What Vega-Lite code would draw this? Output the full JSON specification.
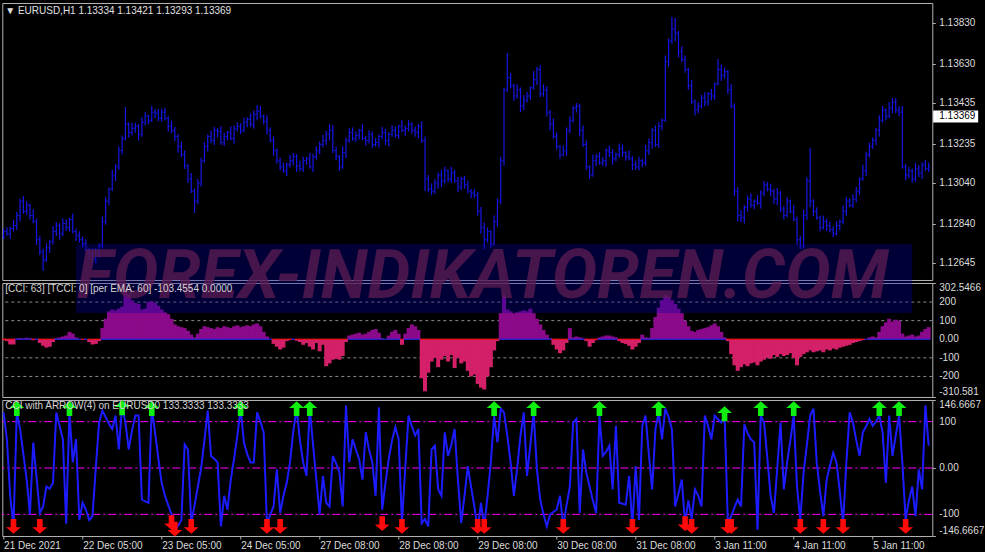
{
  "$schema": "https://vega.github.io/schema/vega-lite/v6.json",
  "background": "#000000",
  "padding": {"left": -1.7, "top": 2, "right": 0, "bottom": 0},
  "autosize": {"type": "pad"},
  "spacing": 3,
  "bounds": "flush",
  "config": {
    "view": {"stroke": "#b4b4b4", "strokeWidth": 1},
    "axis": {"labels": false, "tickColor": "#b4b4b4", "tickSize": 3, "domain": false, "grid": false, "title": null},
    "text": {"font": "Liberation Sans", "fontSize": 10, "color": "#dcdcdc", "align": "left", "dx": 7},
    "title": {"font": "Liberation Sans", "fontSize": 10, "fontWeight": "normal", "color": "#e0e0e0", "anchor": "start", "frame": "group", "dx": 3}
  },
  "datasets": {
    "bars": [
{"i":0,"o":1.12780,"h":1.12815,"l":1.12762,"c":1.12800,"m":-5,"k":120},
{"i":1,"o":1.12800,"h":1.12822,"l":1.12780,"c":1.12790,"m":-10,"k":62},
{"i":2,"o":1.12790,"h":1.12825,"l":1.12765,"c":1.12815,"m":-28,"k":-60},
{"i":3,"o":1.12815,"h":1.12858,"l":1.12801,"c":1.12830,"m":-28,"k":-126},
{"i":4,"o":1.12830,"h":1.12898,"l":1.12808,"c":1.12880,"m":3,"k":120},
{"i":5,"o":1.12880,"h":1.12962,"l":1.12850,"c":1.12950,"m":6,"k":84},
{"i":6,"o":1.12950,"h":1.12975,"l":1.12888,"c":1.12900,"m":4,"k":30},
{"i":7,"o":1.12900,"h":1.12950,"l":1.12884,"c":1.12930,"m":8,"k":-25},
{"i":8,"o":1.12930,"h":1.12938,"l":1.12860,"c":1.12880,"m":5,"k":-100},
{"i":9,"o":1.12880,"h":1.12910,"l":1.12841,"c":1.12850,"m":-5,"k":55},
{"i":10,"o":1.12850,"h":1.12864,"l":1.12734,"c":1.12760,"m":2,"k":-20},
{"i":11,"o":1.12760,"h":1.12780,"l":1.12685,"c":1.12700,"m":-20,"k":-97},
{"i":12,"o":1.12700,"h":1.12715,"l":1.12605,"c":1.12660,"m":-35,"k":-83},
{"i":13,"o":1.12660,"h":1.12742,"l":1.12650,"c":1.12720,"m":-45,"k":-40},
{"i":14,"o":1.12720,"h":1.12760,"l":1.12695,"c":1.12750,"m":-40,"k":-45},
{"i":15,"o":1.12750,"h":1.12828,"l":1.12736,"c":1.12800,"m":-15,"k":-32},
{"i":16,"o":1.12800,"h":1.12848,"l":1.12778,"c":1.12830,"m":5,"k":120},
{"i":17,"o":1.12830,"h":1.12842,"l":1.12760,"c":1.12790,"m":10,"k":91},
{"i":18,"o":1.12790,"h":1.12865,"l":1.12778,"c":1.12840,"m":15,"k":62},
{"i":19,"o":1.12840,"h":1.12860,"l":1.12804,"c":1.12820,"m":20,"k":-120},
{"i":20,"o":1.12820,"h":1.12868,"l":1.12800,"c":1.12860,"m":40,"k":120},
{"i":21,"o":1.12860,"h":1.12890,"l":1.12791,"c":1.12800,"m":30,"k":12},
{"i":22,"o":1.12800,"h":1.12814,"l":1.12754,"c":1.12780,"m":10,"k":62},
{"i":23,"o":1.12780,"h":1.12800,"l":1.12745,"c":1.12760,"m":2,"k":-112},
{"i":24,"o":1.12760,"h":1.12775,"l":1.12722,"c":1.12740,"m":-3,"k":-75},
{"i":25,"o":1.12740,"h":1.12762,"l":1.12700,"c":1.12710,"m":0,"k":-90},
{"i":26,"o":1.12710,"h":1.12720,"l":1.12665,"c":1.12690,"m":-15,"k":-112},
{"i":27,"o":1.12690,"h":1.12718,"l":1.12640,"c":1.12665,"m":-28,"k":-104},
{"i":28,"o":1.12665,"h":1.12718,"l":1.12643,"c":1.12700,"m":-25,"k":0},
{"i":29,"o":1.12700,"h":1.12742,"l":1.12670,"c":1.12730,"m":-10,"k":98},
{"i":30,"o":1.12730,"h":1.12875,"l":1.12718,"c":1.12850,"m":60,"k":124},
{"i":31,"o":1.12850,"h":1.12970,"l":1.12834,"c":1.12950,"m":110,"k":110},
{"i":32,"o":1.12950,"h":1.13018,"l":1.12930,"c":1.13010,"m":150,"k":95},
{"i":33,"o":1.13010,"h":1.13105,"l":1.13001,"c":1.13075,"m":160,"k":84},
{"i":34,"o":1.13075,"h":1.13134,"l":1.13049,"c":1.13120,"m":155,"k":113},
{"i":35,"o":1.13120,"h":1.13220,"l":1.13105,"c":1.13200,"m":165,"k":40},
{"i":36,"o":1.13200,"h":1.13275,"l":1.13182,"c":1.13260,"m":175,"k":135},
{"i":37,"o":1.13260,"h":1.13415,"l":1.13250,"c":1.13330,"m":265,"k":98},
{"i":38,"o":1.13330,"h":1.13340,"l":1.13265,"c":1.13290,"m":240,"k":40},
{"i":39,"o":1.13290,"h":1.13338,"l":1.13276,"c":1.13310,"m":210,"k":80},
{"i":40,"o":1.13310,"h":1.13338,"l":1.13288,"c":1.13320,"m":195,"k":113},
{"i":41,"o":1.13320,"h":1.13332,"l":1.13250,"c":1.13280,"m":190,"k":113},
{"i":42,"o":1.13280,"h":1.13365,"l":1.13268,"c":1.13340,"m":160,"k":-68},
{"i":43,"o":1.13340,"h":1.13390,"l":1.13324,"c":1.13370,"m":165,"k":-72},
{"i":44,"o":1.13370,"h":1.13378,"l":1.13330,"c":1.13350,"m":200,"k":-75},
{"i":45,"o":1.13350,"h":1.13420,"l":1.13341,"c":1.13390,"m":205,"k":131},
{"i":46,"o":1.13390,"h":1.13404,"l":1.13359,"c":1.13385,"m":195,"k":77},
{"i":47,"o":1.13385,"h":1.13405,"l":1.13345,"c":1.13360,"m":180,"k":20},
{"i":48,"o":1.13360,"h":1.13405,"l":1.13342,"c":1.13390,"m":160,"k":-32},
{"i":49,"o":1.13390,"h":1.13410,"l":1.13350,"c":1.13360,"m":145,"k":-60},
{"i":50,"o":1.13360,"h":1.13370,"l":1.13295,"c":1.13320,"m":135,"k":-80},
{"i":51,"o":1.13320,"h":1.13348,"l":1.13286,"c":1.13300,"m":110,"k":-100},
{"i":52,"o":1.13300,"h":1.13318,"l":1.13248,"c":1.13270,"m":80,"k":-133},
{"i":53,"o":1.13270,"h":1.13282,"l":1.13190,"c":1.13220,"m":70,"k":-125},
{"i":54,"o":1.13220,"h":1.13245,"l":1.13168,"c":1.13180,"m":65,"k":-112},
{"i":55,"o":1.13180,"h":1.13200,"l":1.13109,"c":1.13125,"m":60,"k":51},
{"i":56,"o":1.13125,"h":1.13133,"l":1.13040,"c":1.13060,"m":45,"k":40},
{"i":57,"o":1.13060,"h":1.13090,"l":1.12991,"c":1.13000,"m":25,"k":-120},
{"i":58,"o":1.13000,"h":1.13014,"l":1.12892,"c":1.12950,"m":10,"k":-80},
{"i":59,"o":1.12950,"h":1.13060,"l":1.12935,"c":1.13040,"m":30,"k":-40},
{"i":60,"o":1.13040,"h":1.13165,"l":1.13022,"c":1.13150,"m":55,"k":0},
{"i":61,"o":1.13150,"h":1.13242,"l":1.13140,"c":1.13220,"m":70,"k":60},
{"i":62,"o":1.13220,"h":1.13280,"l":1.13195,"c":1.13270,"m":65,"k":124},
{"i":63,"o":1.13270,"h":1.13298,"l":1.13236,"c":1.13250,"m":60,"k":26},
{"i":64,"o":1.13250,"h":1.13318,"l":1.13228,"c":1.13300,"m":55,"k":20},
{"i":65,"o":1.13300,"h":1.13312,"l":1.13265,"c":1.13295,"m":65,"k":12},
{"i":66,"o":1.13295,"h":1.13320,"l":1.13228,"c":1.13240,"m":60,"k":-126},
{"i":67,"o":1.13240,"h":1.13290,"l":1.13224,"c":1.13270,"m":70,"k":-60},
{"i":68,"o":1.13270,"h":1.13298,"l":1.13250,"c":1.13290,"m":65,"k":-90},
{"i":69,"o":1.13290,"h":1.13320,"l":1.13251,"c":1.13260,"m":60,"k":-25},
{"i":70,"o":1.13260,"h":1.13324,"l":1.13234,"c":1.13310,"m":70,"k":19},
{"i":71,"o":1.13310,"h":1.13340,"l":1.13295,"c":1.13320,"m":75,"k":70},
{"i":72,"o":1.13320,"h":1.13335,"l":1.13282,"c":1.13300,"m":65,"k":128},
{"i":73,"o":1.13300,"h":1.13362,"l":1.13290,"c":1.13340,"m":70,"k":55},
{"i":74,"o":1.13340,"h":1.13365,"l":1.13315,"c":1.13355,"m":75,"k":30},
{"i":75,"o":1.13355,"h":1.13383,"l":1.13316,"c":1.13330,"m":70,"k":12},
{"i":76,"o":1.13330,"h":1.13398,"l":1.13308,"c":1.13380,"m":80,"k":12},
{"i":77,"o":1.13380,"h":1.13425,"l":1.13350,"c":1.13395,"m":85,"k":120},
{"i":78,"o":1.13395,"h":1.13420,"l":1.13358,"c":1.13370,"m":70,"k":100},
{"i":79,"o":1.13370,"h":1.13378,"l":1.13329,"c":1.13345,"m":40,"k":77},
{"i":80,"o":1.13345,"h":1.13375,"l":1.13280,"c":1.13300,"m":15,"k":-122},
{"i":81,"o":1.13300,"h":1.13314,"l":1.13241,"c":1.13250,"m":0,"k":-100},
{"i":82,"o":1.13250,"h":1.13270,"l":1.13174,"c":1.13200,"m":-25,"k":-83},
{"i":83,"o":1.13200,"h":1.13210,"l":1.13135,"c":1.13150,"m":-40,"k":-3},
{"i":84,"o":1.13150,"h":1.13165,"l":1.13102,"c":1.13120,"m":-55,"k":-97},
{"i":85,"o":1.13120,"h":1.13142,"l":1.13090,"c":1.13100,"m":-45,"k":-60},
{"i":86,"o":1.13100,"h":1.13140,"l":1.13075,"c":1.13130,"m":-10,"k":-32},
{"i":87,"o":1.13130,"h":1.13178,"l":1.13116,"c":1.13150,"m":-5,"k":12},
{"i":88,"o":1.13150,"h":1.13188,"l":1.13128,"c":1.13170,"m":0,"k":80},
{"i":89,"o":1.13170,"h":1.13182,"l":1.13095,"c":1.13125,"m":-8,"k":128},
{"i":90,"o":1.13125,"h":1.13150,"l":1.13098,"c":1.13110,"m":-15,"k":60},
{"i":91,"o":1.13110,"h":1.13170,"l":1.13094,"c":1.13150,"m":-30,"k":12},
{"i":92,"o":1.13150,"h":1.13168,"l":1.13130,"c":1.13160,"m":-20,"k":-17},
{"i":93,"o":1.13160,"h":1.13190,"l":1.13111,"c":1.13120,"m":-40,"k":128},
{"i":94,"o":1.13120,"h":1.13184,"l":1.13094,"c":1.13170,"m":-55,"k":50},
{"i":95,"o":1.13170,"h":1.13220,"l":1.13155,"c":1.13200,"m":-20,"k":-25},
{"i":96,"o":1.13200,"h":1.13245,"l":1.13182,"c":1.13230,"m":-65,"k":-100},
{"i":97,"o":1.13230,"h":1.13278,"l":1.13216,"c":1.13250,"m":-30,"k":-17},
{"i":98,"o":1.13250,"h":1.13298,"l":1.13228,"c":1.13280,"m":-145,"k":-75},
{"i":99,"o":1.13280,"h":1.13330,"l":1.13250,"c":1.13300,"m":-130,"k":-83},
{"i":100,"o":1.13300,"h":1.13325,"l":1.13188,"c":1.13200,"m":-110,"k":26},
{"i":101,"o":1.13200,"h":1.13220,"l":1.13154,"c":1.13170,"m":-105,"k":10},
{"i":102,"o":1.13170,"h":1.13178,"l":1.13100,"c":1.13120,"m":-110,"k":-10},
{"i":103,"o":1.13120,"h":1.13220,"l":1.13111,"c":1.13190,"m":-90,"k":-83},
{"i":104,"o":1.13190,"h":1.13264,"l":1.13164,"c":1.13250,"m":-15,"k":135},
{"i":105,"o":1.13250,"h":1.13310,"l":1.13240,"c":1.13290,"m":20,"k":12},
{"i":106,"o":1.13290,"h":1.13315,"l":1.13248,"c":1.13260,"m":25,"k":62},
{"i":107,"o":1.13260,"h":1.13295,"l":1.13244,"c":1.13275,"m":30,"k":40},
{"i":108,"o":1.13275,"h":1.13308,"l":1.13255,"c":1.13300,"m":35,"k":19},
{"i":109,"o":1.13300,"h":1.13330,"l":1.13251,"c":1.13260,"m":25,"k":-25},
{"i":110,"o":1.13260,"h":1.13274,"l":1.13224,"c":1.13250,"m":30,"k":77},
{"i":111,"o":1.13250,"h":1.13300,"l":1.13235,"c":1.13280,"m":40,"k":40},
{"i":112,"o":1.13280,"h":1.13295,"l":1.13212,"c":1.13230,"m":50,"k":12},
{"i":113,"o":1.13230,"h":1.13262,"l":1.13220,"c":1.13240,"m":55,"k":-60},
{"i":114,"o":1.13240,"h":1.13280,"l":1.13215,"c":1.13270,"m":35,"k":131},
{"i":115,"o":1.13270,"h":1.13318,"l":1.13256,"c":1.13290,"m":5,"k":-90},
{"i":116,"o":1.13290,"h":1.13308,"l":1.13228,"c":1.13250,"m":0,"k":-32},
{"i":117,"o":1.13250,"h":1.13292,"l":1.13220,"c":1.13280,"m":20,"k":20},
{"i":118,"o":1.13280,"h":1.13325,"l":1.13268,"c":1.13300,"m":40,"k":60},
{"i":119,"o":1.13300,"h":1.13320,"l":1.13263,"c":1.13275,"m":50,"k":88},
{"i":120,"o":1.13275,"h":1.13328,"l":1.13259,"c":1.13320,"m":30,"k":62},
{"i":121,"o":1.13320,"h":1.13350,"l":1.13291,"c":1.13300,"m":-30,"k":-119},
{"i":122,"o":1.13300,"h":1.13324,"l":1.13274,"c":1.13310,"m":30,"k":0},
{"i":123,"o":1.13310,"h":1.13350,"l":1.13295,"c":1.13330,"m":60,"k":113},
{"i":124,"o":1.13330,"h":1.13340,"l":1.13282,"c":1.13300,"m":80,"k":90},
{"i":125,"o":1.13300,"h":1.13318,"l":1.13268,"c":1.13290,"m":70,"k":70},
{"i":126,"o":1.13290,"h":1.13332,"l":1.13260,"c":1.13320,"m":50,"k":84},
{"i":127,"o":1.13320,"h":1.13345,"l":1.13238,"c":1.13250,"m":-210,"k":-119},
{"i":128,"o":1.13250,"h":1.13270,"l":1.13000,"c":1.13060,"m":-280,"k":-110},
{"i":129,"o":1.13060,"h":1.13080,"l":1.12995,"c":1.13010,"m":-180,"k":-126},
{"i":130,"o":1.13010,"h":1.13038,"l":1.12980,"c":1.13000,"m":-120,"k":40},
{"i":131,"o":1.13000,"h":1.13058,"l":1.12986,"c":1.13040,"m":-100,"k":48},
{"i":132,"o":1.13040,"h":1.13092,"l":1.13010,"c":1.13080,"m":-150,"k":-46},
{"i":133,"o":1.13080,"h":1.13105,"l":1.13020,"c":1.13050,"m":-110,"k":-60},
{"i":134,"o":1.13050,"h":1.13120,"l":1.13038,"c":1.13100,"m":-90,"k":77},
{"i":135,"o":1.13100,"h":1.13108,"l":1.13044,"c":1.13060,"m":-120,"k":26},
{"i":136,"o":1.13060,"h":1.13120,"l":1.13040,"c":1.13090,"m":-85,"k":50},
{"i":137,"o":1.13090,"h":1.13104,"l":1.13041,"c":1.13050,"m":-155,"k":84},
{"i":138,"o":1.13050,"h":1.13070,"l":1.12994,"c":1.13020,"m":-100,"k":-25},
{"i":139,"o":1.13020,"h":1.13070,"l":1.13005,"c":1.13060,"m":-130,"k":-119},
{"i":140,"o":1.13060,"h":1.13075,"l":1.13012,"c":1.13030,"m":-120,"k":-60},
{"i":141,"o":1.13030,"h":1.13052,"l":1.12990,"c":1.13000,"m":-170,"k":4},
{"i":142,"o":1.13000,"h":1.13010,"l":1.12965,"c":1.12990,"m":-200,"k":-40},
{"i":143,"o":1.12990,"h":1.13008,"l":1.12966,"c":1.12980,"m":-190,"k":-83},
{"i":144,"o":1.12980,"h":1.12995,"l":1.12878,"c":1.12900,"m":-240,"k":-133},
{"i":145,"o":1.12900,"h":1.12922,"l":1.12790,"c":1.12820,"m":-260,"k":-75},
{"i":146,"o":1.12820,"h":1.12845,"l":1.12714,"c":1.12760,"m":-270,"k":-126},
{"i":147,"o":1.12760,"h":1.12820,"l":1.12744,"c":1.12800,"m":-200,"k":-60},
{"i":148,"o":1.12800,"h":1.12808,"l":1.12720,"c":1.12740,"m":-150,"k":12},
{"i":149,"o":1.12740,"h":1.12880,"l":1.12731,"c":1.12850,"m":-60,"k":113},
{"i":150,"o":1.12850,"h":1.12964,"l":1.12824,"c":1.12950,"m":-10,"k":55},
{"i":151,"o":1.12950,"h":1.13170,"l":1.12935,"c":1.13150,"m":140,"k":128},
{"i":152,"o":1.13150,"h":1.13510,"l":1.13125,"c":1.13500,"m":240,"k":120},
{"i":153,"o":1.13500,"h":1.13682,"l":1.13488,"c":1.13560,"m":160,"k":70},
{"i":154,"o":1.13560,"h":1.13582,"l":1.13508,"c":1.13520,"m":150,"k":12},
{"i":155,"o":1.13520,"h":1.13530,"l":1.13445,"c":1.13470,"m":140,"k":-60},
{"i":156,"o":1.13470,"h":1.13528,"l":1.13456,"c":1.13500,"m":145,"k":0},
{"i":157,"o":1.13500,"h":1.13512,"l":1.13390,"c":1.13420,"m":150,"k":70},
{"i":158,"o":1.13420,"h":1.13475,"l":1.13400,"c":1.13450,"m":155,"k":120},
{"i":159,"o":1.13450,"h":1.13490,"l":1.13438,"c":1.13470,"m":150,"k":-17},
{"i":160,"o":1.13470,"h":1.13518,"l":1.13450,"c":1.13510,"m":165,"k":50},
{"i":161,"o":1.13510,"h":1.13593,"l":1.13501,"c":1.13550,"m":140,"k":120},
{"i":162,"o":1.13550,"h":1.13614,"l":1.13524,"c":1.13600,"m":110,"k":-3},
{"i":163,"o":1.13600,"h":1.13620,"l":1.13465,"c":1.13480,"m":80,"k":-68},
{"i":164,"o":1.13480,"h":1.13528,"l":1.13466,"c":1.13500,"m":50,"k":-100},
{"i":165,"o":1.13500,"h":1.13518,"l":1.13368,"c":1.13390,"m":25,"k":-126},
{"i":166,"o":1.13390,"h":1.13400,"l":1.13300,"c":1.13330,"m":5,"k":-100},
{"i":167,"o":1.13330,"h":1.13360,"l":1.13258,"c":1.13270,"m":-30,"k":-95},
{"i":168,"o":1.13270,"h":1.13290,"l":1.13204,"c":1.13220,"m":-55,"k":-90},
{"i":169,"o":1.13220,"h":1.13228,"l":1.13160,"c":1.13180,"m":-75,"k":-60},
{"i":170,"o":1.13180,"h":1.13225,"l":1.13171,"c":1.13200,"m":-60,"k":-126},
{"i":171,"o":1.13200,"h":1.13314,"l":1.13174,"c":1.13300,"m":-20,"k":-80},
{"i":172,"o":1.13300,"h":1.13370,"l":1.13285,"c":1.13350,"m":60,"k":-40},
{"i":173,"o":1.13350,"h":1.13420,"l":1.13338,"c":1.13410,"m":10,"k":98},
{"i":174,"o":1.13410,"h":1.13435,"l":1.13388,"c":1.13420,"m":15,"k":106},
{"i":175,"o":1.13420,"h":1.13432,"l":1.13270,"c":1.13300,"m":10,"k":-97},
{"i":176,"o":1.13300,"h":1.13325,"l":1.13218,"c":1.13230,"m":5,"k":40},
{"i":177,"o":1.13230,"h":1.13250,"l":1.13104,"c":1.13120,"m":-10,"k":-10},
{"i":178,"o":1.13120,"h":1.13128,"l":1.13060,"c":1.13080,"m":-40,"k":-40},
{"i":179,"o":1.13080,"h":1.13180,"l":1.13071,"c":1.13150,"m":-20,"k":-70},
{"i":180,"o":1.13150,"h":1.13184,"l":1.13124,"c":1.13170,"m":-5,"k":-97},
{"i":181,"o":1.13170,"h":1.13192,"l":1.13130,"c":1.13140,"m":10,"k":113},
{"i":182,"o":1.13140,"h":1.13168,"l":1.13125,"c":1.13150,"m":15,"k":26},
{"i":183,"o":1.13150,"h":1.13212,"l":1.13120,"c":1.13200,"m":20,"k":35},
{"i":184,"o":1.13200,"h":1.13225,"l":1.13168,"c":1.13190,"m":20,"k":48},
{"i":185,"o":1.13190,"h":1.13208,"l":1.13130,"c":1.13160,"m":15,"k":-46},
{"i":186,"o":1.13160,"h":1.13192,"l":1.13148,"c":1.13180,"m":10,"k":91},
{"i":187,"o":1.13180,"h":1.13235,"l":1.13164,"c":1.13210,"m":-10,"k":-75},
{"i":188,"o":1.13210,"h":1.13230,"l":1.13170,"c":1.13190,"m":-20,"k":-77},
{"i":189,"o":1.13190,"h":1.13198,"l":1.13150,"c":1.13170,"m":-25,"k":-79},
{"i":190,"o":1.13170,"h":1.13200,"l":1.13151,"c":1.13160,"m":-35,"k":-17},
{"i":191,"o":1.13160,"h":1.13174,"l":1.13104,"c":1.13130,"m":-55,"k":-126},
{"i":192,"o":1.13130,"h":1.13150,"l":1.13105,"c":1.13120,"m":-40,"k":4},
{"i":193,"o":1.13120,"h":1.13170,"l":1.13102,"c":1.13150,"m":-20,"k":-112},
{"i":194,"o":1.13150,"h":1.13160,"l":1.13118,"c":1.13140,"m":25,"k":91},
{"i":195,"o":1.13140,"h":1.13228,"l":1.13126,"c":1.13200,"m":10,"k":113},
{"i":196,"o":1.13200,"h":1.13258,"l":1.13178,"c":1.13240,"m":8,"k":30},
{"i":197,"o":1.13240,"h":1.13312,"l":1.13210,"c":1.13300,"m":60,"k":-46},
{"i":198,"o":1.13300,"h":1.13325,"l":1.13218,"c":1.13230,"m":120,"k":84},
{"i":199,"o":1.13230,"h":1.13340,"l":1.13214,"c":1.13320,"m":170,"k":120},
{"i":200,"o":1.13320,"h":1.13358,"l":1.13300,"c":1.13350,"m":210,"k":62},
{"i":201,"o":1.13350,"h":1.13670,"l":1.13341,"c":1.13640,"m":240,"k":128},
{"i":202,"o":1.13640,"h":1.13754,"l":1.13614,"c":1.13740,"m":230,"k":110},
{"i":203,"o":1.13740,"h":1.13860,"l":1.13728,"c":1.13800,"m":210,"k":84},
{"i":204,"o":1.13800,"h":1.13855,"l":1.13740,"c":1.13780,"m":190,"k":-83},
{"i":205,"o":1.13780,"h":1.13792,"l":1.13660,"c":1.13690,"m":165,"k":-55},
{"i":206,"o":1.13690,"h":1.13715,"l":1.13638,"c":1.13650,"m":140,"k":-25},
{"i":207,"o":1.13650,"h":1.13670,"l":1.13584,"c":1.13600,"m":100,"k":-119},
{"i":208,"o":1.13600,"h":1.13608,"l":1.13500,"c":1.13520,"m":70,"k":-70},
{"i":209,"o":1.13520,"h":1.13550,"l":1.13431,"c":1.13440,"m":45,"k":-110},
{"i":210,"o":1.13440,"h":1.13454,"l":1.13374,"c":1.13400,"m":40,"k":-46},
{"i":211,"o":1.13400,"h":1.13440,"l":1.13385,"c":1.13420,"m":50,"k":-60},
{"i":212,"o":1.13420,"h":1.13475,"l":1.13408,"c":1.13460,"m":55,"k":-83},
{"i":213,"o":1.13460,"h":1.13488,"l":1.13418,"c":1.13440,"m":60,"k":113},
{"i":214,"o":1.13440,"h":1.13490,"l":1.13422,"c":1.13480,"m":65,"k":90},
{"i":215,"o":1.13480,"h":1.13505,"l":1.13448,"c":1.13470,"m":75,"k":62},
{"i":216,"o":1.13470,"h":1.13538,"l":1.13450,"c":1.13530,"m":85,"k":113},
{"i":217,"o":1.13530,"h":1.13652,"l":1.13521,"c":1.13600,"m":70,"k":105},
{"i":218,"o":1.13600,"h":1.13625,"l":1.13544,"c":1.13570,"m":40,"k":98},
{"i":219,"o":1.13570,"h":1.13610,"l":1.13555,"c":1.13590,"m":10,"k":113},
{"i":220,"o":1.13590,"h":1.13598,"l":1.13480,"c":1.13500,"m":-10,"k":-119},
{"i":221,"o":1.13500,"h":1.13530,"l":1.13408,"c":1.13420,"m":-80,"k":-104},
{"i":222,"o":1.13420,"h":1.13434,"l":1.12975,"c":1.13000,"m":-140,"k":-85},
{"i":223,"o":1.13000,"h":1.13020,"l":1.12850,"c":1.12880,"m":-170,"k":-68},
{"i":224,"o":1.12880,"h":1.12905,"l":1.12848,"c":1.12870,"m":-150,"k":-83},
{"i":225,"o":1.12870,"h":1.12932,"l":1.12840,"c":1.12920,"m":-135,"k":94},
{"i":226,"o":1.12920,"h":1.12978,"l":1.12898,"c":1.12960,"m":-145,"k":75},
{"i":227,"o":1.12960,"h":1.12990,"l":1.12918,"c":1.12930,"m":-130,"k":62},
{"i":228,"o":1.12930,"h":1.12958,"l":1.12910,"c":1.12950,"m":-125,"k":55},
{"i":229,"o":1.12950,"h":1.12980,"l":1.12931,"c":1.12940,"m":-140,"k":-133},
{"i":230,"o":1.12940,"h":1.13004,"l":1.12914,"c":1.12990,"m":-120,"k":113},
{"i":231,"o":1.12990,"h":1.13050,"l":1.12975,"c":1.13030,"m":-110,"k":98},
{"i":232,"o":1.13030,"h":1.13045,"l":1.12998,"c":1.13010,"m":-100,"k":20},
{"i":233,"o":1.13010,"h":1.13038,"l":1.12975,"c":1.13000,"m":-105,"k":-60},
{"i":234,"o":1.13000,"h":1.13010,"l":1.12938,"c":1.12960,"m":-85,"k":-97},
{"i":235,"o":1.12960,"h":1.13015,"l":1.12930,"c":1.12990,"m":-95,"k":0},
{"i":236,"o":1.12990,"h":1.13000,"l":1.12895,"c":1.12910,"m":-80,"k":98},
{"i":237,"o":1.12910,"h":1.12925,"l":1.12860,"c":1.12880,"m":-90,"k":-46},
{"i":238,"o":1.12880,"h":1.12970,"l":1.12870,"c":1.12950,"m":-85,"k":12},
{"i":239,"o":1.12950,"h":1.12958,"l":1.12890,"c":1.12900,"m":-75,"k":60},
{"i":240,"o":1.12900,"h":1.12930,"l":1.12851,"c":1.12860,"m":-100,"k":113},
{"i":241,"o":1.12860,"h":1.12874,"l":1.12734,"c":1.12760,"m":-140,"k":-40},
{"i":242,"o":1.12760,"h":1.12780,"l":1.12714,"c":1.12730,"m":-95,"k":-112},
{"i":243,"o":1.12730,"h":1.12908,"l":1.12716,"c":1.12880,"m":-80,"k":-10},
{"i":244,"o":1.12880,"h":1.13068,"l":1.12858,"c":1.13050,"m":-70,"k":50},
{"i":245,"o":1.13050,"h":1.13213,"l":1.12920,"c":1.12950,"m":-60,"k":113},
{"i":246,"o":1.12950,"h":1.12960,"l":1.12875,"c":1.12900,"m":-70,"k":128},
{"i":247,"o":1.12900,"h":1.12920,"l":1.12858,"c":1.12870,"m":-65,"k":12},
{"i":248,"o":1.12870,"h":1.12878,"l":1.12800,"c":1.12820,"m":-60,"k":-50},
{"i":249,"o":1.12820,"h":1.12880,"l":1.12811,"c":1.12850,"m":-70,"k":-104},
{"i":250,"o":1.12850,"h":1.12864,"l":1.12804,"c":1.12830,"m":-55,"k":-25},
{"i":251,"o":1.12830,"h":1.12850,"l":1.12795,"c":1.12810,"m":-60,"k":5},
{"i":252,"o":1.12810,"h":1.12825,"l":1.12772,"c":1.12790,"m":-50,"k":33},
{"i":253,"o":1.12790,"h":1.12852,"l":1.12780,"c":1.12830,"m":-55,"k":12},
{"i":254,"o":1.12830,"h":1.12860,"l":1.12805,"c":1.12850,"m":-45,"k":-50},
{"i":255,"o":1.12850,"h":1.12928,"l":1.12836,"c":1.12900,"m":-40,"k":-119},
{"i":256,"o":1.12900,"h":1.12968,"l":1.12878,"c":1.12950,"m":-35,"k":12},
{"i":257,"o":1.12950,"h":1.12962,"l":1.12920,"c":1.12930,"m":-30,"k":120},
{"i":258,"o":1.12930,"h":1.12985,"l":1.12918,"c":1.12960,"m":-20,"k":98},
{"i":259,"o":1.12960,"h":1.13020,"l":1.12944,"c":1.13000,"m":-15,"k":60},
{"i":260,"o":1.13000,"h":1.13068,"l":1.12980,"c":1.13060,"m":-10,"k":26},
{"i":261,"o":1.13060,"h":1.13130,"l":1.13051,"c":1.13100,"m":-5,"k":77},
{"i":262,"o":1.13100,"h":1.13194,"l":1.13074,"c":1.13180,"m":0,"k":90},
{"i":263,"o":1.13180,"h":1.13240,"l":1.13165,"c":1.13220,"m":10,"k":106},
{"i":264,"o":1.13220,"h":1.13265,"l":1.13208,"c":1.13250,"m":15,"k":91},
{"i":265,"o":1.13250,"h":1.13312,"l":1.13228,"c":1.13300,"m":10,"k":100},
{"i":266,"o":1.13300,"h":1.13375,"l":1.13270,"c":1.13350,"m":40,"k":113},
{"i":267,"o":1.13350,"h":1.13420,"l":1.13338,"c":1.13400,"m":70,"k":77},
{"i":268,"o":1.13400,"h":1.13408,"l":1.13350,"c":1.13370,"m":90,"k":-32},
{"i":269,"o":1.13370,"h":1.13440,"l":1.13361,"c":1.13410,"m":110,"k":113},
{"i":270,"o":1.13410,"h":1.13460,"l":1.13384,"c":1.13440,"m":95,"k":26},
{"i":271,"o":1.13440,"h":1.13460,"l":1.13384,"c":1.13400,"m":105,"k":70},
{"i":272,"o":1.13400,"h":1.13420,"l":1.13370,"c":1.13390,"m":100,"k":113},
{"i":273,"o":1.13390,"h":1.13420,"l":1.13111,"c":1.13120,"m":30,"k":12},
{"i":274,"o":1.13120,"h":1.13134,"l":1.13054,"c":1.13080,"m":15,"k":-112},
{"i":275,"o":1.13080,"h":1.13120,"l":1.13065,"c":1.13100,"m":20,"k":-70},
{"i":276,"o":1.13100,"h":1.13110,"l":1.13040,"c":1.13060,"m":25,"k":-40},
{"i":277,"o":1.13060,"h":1.13138,"l":1.13046,"c":1.13110,"m":15,"k":-104},
{"i":278,"o":1.13110,"h":1.13128,"l":1.13068,"c":1.13090,"m":20,"k":-3},
{"i":279,"o":1.13090,"h":1.13142,"l":1.13060,"c":1.13130,"m":40,"k":-46},
{"i":280,"o":1.13130,"h":1.13155,"l":1.13098,"c":1.13110,"m":55,"k":135},
{"i":281,"o":1.13110,"h":1.13140,"l":1.13094,"c":1.13120,"m":65,"k":48}
    ],
    "arrows": [
{"i":4,"dir":"up","v":128},{"i":20,"dir":"up","v":128},{"i":36,"dir":"up","v":130},{"i":45,"dir":"up","v":128},
{"i":72,"dir":"up","v":128},{"i":89,"dir":"up","v":128},{"i":93,"dir":"up","v":128},{"i":149,"dir":"up","v":128},
{"i":161,"dir":"up","v":128},{"i":181,"dir":"up","v":128},{"i":199,"dir":"up","v":128},{"i":219,"dir":"up","v":117},
{"i":230,"dir":"up","v":128},{"i":240,"dir":"up","v":128},{"i":266,"dir":"up","v":128},{"i":272,"dir":"up","v":128},
{"i":3,"dir":"down","v":-126},{"i":11,"dir":"down","v":-126},{"i":51,"dir":"down","v":-118},{"i":52,"dir":"down","v":-132},
{"i":57,"dir":"down","v":-126},{"i":80,"dir":"down","v":-126},{"i":84,"dir":"down","v":-126},{"i":115,"dir":"down","v":-120},
{"i":121,"dir":"down","v":-126},{"i":144,"dir":"down","v":-126},{"i":146,"dir":"down","v":-126},{"i":170,"dir":"down","v":-126},
{"i":191,"dir":"down","v":-126},{"i":207,"dir":"down","v":-120},{"i":209,"dir":"down","v":-126},{"i":220,"dir":"down","v":-126},
{"i":221,"dir":"down","v":-126},{"i":242,"dir":"down","v":-126},{"i":249,"dir":"down","v":-126},{"i":255,"dir":"down","v":-126},
{"i":274,"dir":"down","v":-126}
    ]
  },
  "vconcat": [
    {
      "width": 930,
      "height": 277,
      "title": {"text": "▼ EURUSD,H1  1.13334 1.13421 1.13293 1.13369", "offset": -13},
      "data": {"name": "bars"},
      "layer": [
        {
          "mark": {"type": "rule", "color": "#1616e8", "strokeWidth": 1.2},
          "encoding": {
            "x": {"field": "i", "type": "quantitative", "scale": {"domain": [-0.4, 282.1], "nice": false, "zero": false}, "axis": null},
            "y": {"field": "l", "type": "quantitative", "scale": {"domain": [1.12561, 1.13929], "nice": false, "zero": false},
              "axis": {"orient": "right", "values": [1.1383, 1.1363, 1.13435, 1.13235, 1.1304, 1.1284, 1.12645]}},
            "y2": {"field": "h"}
          }
        },
        {
          "mark": {"type": "tick", "orient": "horizontal", "color": "#1616e8", "size": 1.6, "thickness": 1, "xOffset": -1.1},
          "encoding": {"x": {"field": "i", "type": "quantitative"}, "y": {"field": "o", "type": "quantitative"}}
        },
        {
          "mark": {"type": "tick", "orient": "horizontal", "color": "#1616e8", "size": 1.6, "thickness": 1, "xOffset": 1.1},
          "encoding": {"x": {"field": "i", "type": "quantitative"}, "y": {"field": "c", "type": "quantitative"}}
        },
        {
          "data": {"values": [{}]},
          "mark": {"type": "tick", "orient": "horizontal", "color": "#ffffff", "size": 45, "thickness": 12, "opacity": 1},
          "encoding": {"x": {"datum": 289.2}, "y": {"datum": 1.13369}}
        },
        {
          "data": {"values": [{"v": 1.1383, "t": "1.13830"}, {"v": 1.1363, "t": "1.13630"}, {"v": 1.13435, "t": "1.13435"}, {"v": 1.13235, "t": "1.13235"}, {"v": 1.1304, "t": "1.13040"}, {"v": 1.1284, "t": "1.12840"}, {"v": 1.12645, "t": "1.12645"}, {"v": 1.13369, "t": "1.13369"}]},
          "mark": {"type": "text", "baseline": "middle"},
          "encoding": {
            "x": {"datum": 282.1},
            "y": {"field": "v", "type": "quantitative"},
            "text": {"field": "t", "type": "nominal"},
            "color": {"condition": {"test": "datum.t === '1.13369'", "value": "#000000"}, "value": "#dcdcdc"}
          }
        }
      ]
    },
    {
      "width": 930,
      "height": 114,
      "title": {"text": "[CCI: 63] [TCCI: 0] [per EMA: 60]  -103.4554 0.0000", "offset": -50, "color": "#d4d4d4"},
      "layer": [
        {
          "data": {"values": [{"v": 200}, {"v": 100}, {"v": -100}, {"v": -200}]},
          "mark": {"type": "rule", "color": "#8c8c8c", "strokeDash": [3, 3], "strokeWidth": 1},
          "encoding": {"y": {"field": "v", "type": "quantitative"}}
        },
        {
          "data": {"name": "bars"},
          "mark": {"type": "rule", "strokeWidth": 4},
          "encoding": {
            "x": {"field": "i", "type": "quantitative", "scale": {"domain": [-0.4, 282.1], "nice": false, "zero": false}, "axis": null},
            "y": {"field": "m", "type": "quantitative", "scale": {"domain": [-310.581, 302.5466], "nice": false, "zero": false},
              "axis": {"orient": "right", "values": [302.5466, 200, 100, 0, -100, -200, -310.581]}},
            "y2": {"datum": 0},
            "color": {"condition": {"test": "datum.m >= 0", "value": "#8a0a8a"}, "value": "#d42068"}
          }
        },
        {
          "data": {"name": "bars"},
          "mark": {"type": "tick", "orient": "horizontal", "size": 3.5, "thickness": 1.5},
          "encoding": {
            "x": {"field": "i", "type": "quantitative"},
            "y": {"datum": 0},
            "color": {"condition": {"test": "datum.m >= 0", "value": "#2a2aff"}, "value": "#ff1010"}
          }
        },
        {
          "data": {"values": [{}]},
          "mark": {"type": "rect", "color": "#0000a8", "opacity": 0.32},
          "encoding": {"x": {"datum": 22}, "x2": {"datum": 276}, "y": {"datum": 141}, "y2": {"datum": 512}}
        },
        {
          "data": {"values": [{}]},
          "mark": {"type": "text", "text": "FOREX-INDIKATOREN.COM", "font": "Roboto", "fontSize": 68, "fontStyle": "italic", "fontWeight": "bold", "color": "#5c1c52", "opacity": 0.75, "align": "center", "baseline": "middle", "dx": 0},
          "encoding": {"x": {"datum": 145.5}, "y": {"datum": 330}}
        },
        {
          "data": {"values": [{"v": 200, "t": "200"}, {"v": 100, "t": "100"}, {"v": 0, "t": "0.00"}, {"v": -100, "t": "-100"}, {"v": -200, "t": "-200"}]},
          "mark": {"type": "text", "baseline": "middle"},
          "encoding": {"x": {"datum": 282.1}, "y": {"field": "v", "type": "quantitative"}, "text": {"field": "t", "type": "nominal"}}
        },
        {
          "data": {"values": [{"v": 302.5466, "t": "302.5466"}]},
          "mark": {"type": "text", "baseline": "top", "dy": 0},
          "encoding": {"x": {"datum": 282.1}, "y": {"field": "v", "type": "quantitative"}, "text": {"field": "t", "type": "nominal"}}
        },
        {
          "data": {"values": [{"v": -310.581, "t": "-310.581"}]},
          "mark": {"type": "text", "baseline": "bottom"},
          "encoding": {"x": {"datum": 282.1}, "y": {"field": "v", "type": "quantitative"}, "text": {"field": "t", "type": "nominal"}}
        }
      ]
    },
    {
      "width": 930,
      "height": 136,
      "title": {"text": "CCI with ARROW(4) on EURUSD0 133.3333 133.3333", "offset": -12, "color": "#d4d4d4"},
      "layer": [
        {
          "data": {"values": [{"v": 100}, {"v": 0}, {"v": -100}]},
          "mark": {"type": "rule", "color": "#ff00ff", "strokeDash": [8, 3, 2, 3], "strokeWidth": 1},
          "encoding": {"y": {"field": "v", "type": "quantitative"}}
        },
        {
          "data": {"name": "bars"},
          "mark": {"type": "line", "color": "#1c1cff", "strokeWidth": 2},
          "encoding": {
            "x": {"field": "i", "type": "quantitative", "scale": {"domain": [-0.4, 282.1], "nice": false, "zero": false},
              "axis": {"orient": "bottom", "labels": true, "labelFont": "Liberation Sans", "labelFontSize": 10, "labelColor": "#dcdcdc", "labelOverlap": false, "values": [0, 24, 48, 72, 96, 120, 144, 168, 192, 216, 240, 264],
                "labelExpr": "['21 Dec 2021','22 Dec 05:00','23 Dec 05:00','24 Dec 05:00','27 Dec 08:00','28 Dec 08:00','29 Dec 08:00','30 Dec 08:00','31 Dec 08:00','3 Jan 11:00','4 Jan 11:00','5 Jan 11:00'][round(datum.value / 24)]",
                "labelAlign": "left", "labelPadding": 2, "labelOffset": 0, "labelFlush": false}},
            "y": {"field": "k", "type": "quantitative", "scale": {"domain": [-146.6667, 146.6667], "nice": false, "zero": false},
              "axis": {"orient": "right", "values": [146.6667, 100, 0, -100, -146.6667]}}
          }
        },
        {
          "data": {"name": "arrows"},
          "transform": [{"filter": "datum.dir === 'up'"}],
          "mark": {"type": "point", "shape": "M0,-1L1,-0.1L0.38,-0.1L0.38,1L-0.38,1L-0.38,-0.1L-1,-0.1Z", "filled": true, "color": "#10f010", "opacity": 1, "size": 220},
          "encoding": {"x": {"field": "i", "type": "quantitative"}, "y": {"field": "v", "type": "quantitative"}}
        },
        {
          "data": {"name": "arrows"},
          "transform": [{"filter": "datum.dir === 'down'"}],
          "mark": {"type": "point", "shape": "M0,1L1,0.1L0.38,0.1L0.38,-1L-0.38,-1L-0.38,0.1L-1,0.1Z", "filled": true, "color": "#ff0a0a", "opacity": 1, "size": 220},
          "encoding": {"x": {"field": "i", "type": "quantitative"}, "y": {"field": "v", "type": "quantitative"}}
        },
        {
          "data": {"values": [{"v": 100, "t": "100"}, {"v": 0, "t": "0.00"}, {"v": -100, "t": "-100"}]},
          "mark": {"type": "text", "baseline": "middle"},
          "encoding": {"x": {"datum": 282.1}, "y": {"field": "v", "type": "quantitative"}, "text": {"field": "t", "type": "nominal"}}
        },
        {
          "data": {"values": [{"v": 146.6667, "t": "146.6667"}]},
          "mark": {"type": "text", "baseline": "top"},
          "encoding": {"x": {"datum": 282.1}, "y": {"field": "v", "type": "quantitative"}, "text": {"field": "t", "type": "nominal"}}
        },
        {
          "data": {"values": [{"v": -146.6667, "t": "-146.6667"}]},
          "mark": {"type": "text", "baseline": "bottom"},
          "encoding": {"x": {"datum": 282.1}, "y": {"field": "v", "type": "quantitative"}, "text": {"field": "t", "type": "nominal"}}
        }
      ]
    }
  ]
}
